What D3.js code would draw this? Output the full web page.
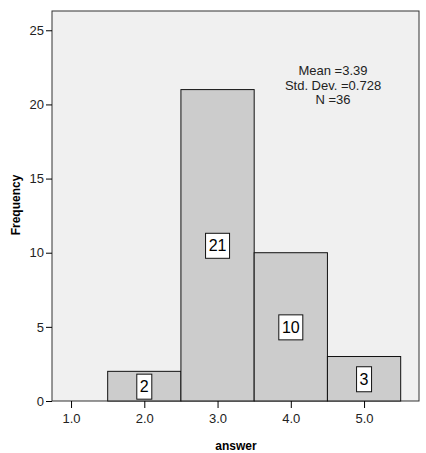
<!DOCTYPE html>
<html><head><meta charset="utf-8">
<script src="https://d3js.org/d3.v7.min.js"></script>
<style>body{margin:0;background:#fff}text{font-family:"Liberation Sans",Arial,sans-serif}</style>
</head><body><svg id="c" width="426" height="453"></svg>
<script>
const bins = [2, 3, 4, 5];
const counts = [2, 21, 10, 3];
const xTicks = [1, 2, 3, 4, 5];
const yTicks = [0, 5, 10, 15, 20, 25];
const stats = ["Mean =3.39", "Std. Dev. =0.728", "N =36"];

const svg = d3.select("#c");
const L = 52, R = 419, T = 11, B = 401;
const x = d3.scaleLinear().domain([0.74, 5.75]).range([L, R]);
const y = d3.scaleLinear().domain([0, 26.3]).range([B, T]);

svg.append("rect").attr("x", L).attr("y", T).attr("width", R - L).attr("height", B - T)
  .attr("fill", "#f0f0f0").attr("stroke", "#333").attr("stroke-width", 1);

svg.selectAll(".bar").data(bins).join("rect")
  .attr("x", (d) => x(d - 0.5)).attr("width", (d) => x(d + 0.5) - x(d - 0.5))
  .attr("y", (d, i) => y(counts[i])).attr("height", (d, i) => B - y(counts[i]))
  .attr("fill", "#cccccc").attr("stroke", "#111").attr("stroke-width", 1);

bins.forEach((d, i) => {
  const cy = y(counts[i] / 2), t = String(counts[i]);
  const w = t.length * 9 + 6;
  svg.append("rect").attr("x", x(d) - w / 2).attr("y", cy - 12).attr("width", w).attr("height", 25)
    .attr("fill", "#fff").attr("stroke", "#111");
  svg.append("text").attr("x", x(d)).attr("y", cy + 6).attr("text-anchor", "middle")
    .attr("font-size", 16).text(t);
});

const ya = svg.append("g").attr("transform", `translate(${L},0)`)
  .call(d3.axisLeft(y).tickValues(yTicks).tickSize(6).tickSizeOuter(0));
ya.select(".domain").remove();
ya.selectAll("text").attr("font-size", 13).attr("fill", "#222").attr("dx", "1");
const xa = svg.append("g").attr("transform", `translate(0,${B})`)
  .call(d3.axisBottom(x).tickValues(xTicks).tickSize(7).tickSizeOuter(0));
xa.select(".domain").remove();
xa.selectAll("text").attr("font-size", 13).attr("fill", "#222").attr("dy", "0.9em");

svg.append("text").attr("x", 236).attr("y", 450).attr("text-anchor", "middle")
  .attr("font-size", 12).attr("font-weight", "bold").text("answer");
svg.append("text").attr("transform", "translate(20,205) rotate(-90)").attr("text-anchor", "middle")
  .attr("font-size", 12).attr("font-weight", "bold").text("Frequency");

stats.forEach((s, i) => svg.append("text").attr("x", 333).attr("y", 75 + i * 14.5)
  .attr("text-anchor", "middle").attr("font-size", 13).attr("fill", "#222").text(s));
</script></body></html>
